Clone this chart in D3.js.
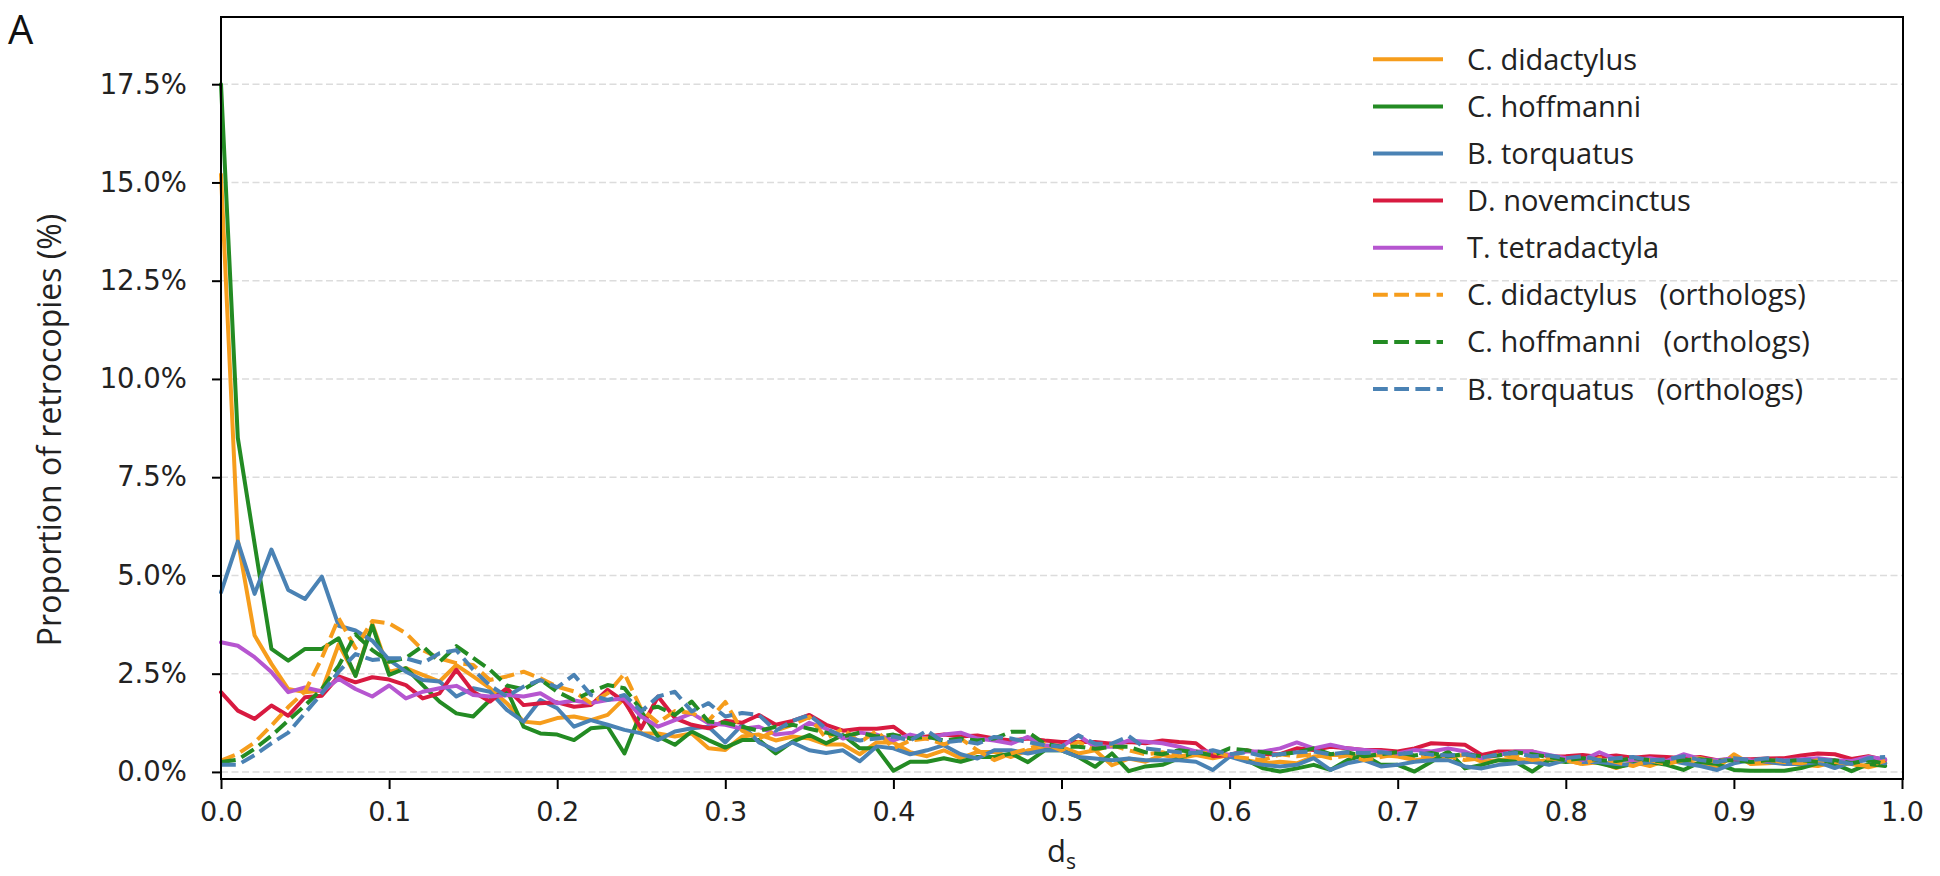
<!DOCTYPE html>
<html>
<head>
<meta charset="utf-8">
<script src="https://cdn.jsdelivr.net/npm/d3@7"></script>
<style>
  html, body { margin: 0; padding: 0; background: #fff; }
  svg { display: block; }
  text { white-space: pre; }
</style>
</head>
<body>
<svg id="chart" width="1940" height="876"></svg>
<script>
// ---------- DATA ----------
const seriesNames = [
  "C. didactylus", "C. hoffmanni", "B. torquatus", "D. novemcinctus", "T. tetradactyla",
  "C. didactylus   (orthologs)", "C. hoffmanni   (orthologs)", "B. torquatus   (orthologs)"
];
const seriesColors = ["#f69d1c", "#238b23", "#4a82b4", "#d81a40", "#b656d0", "#f69d1c", "#238b23", "#4a82b4"];
const seriesDashed = [false, false, false, false, false, true, true, true];

// ds bin positions (0.00 .. 0.99, step 0.01)
const dsBins = d3.range(100).map(i => +(i / 100).toFixed(2));

const cDidactylus = [
  15.2,5.9,3.47,2.75,2.11,2.03,2.07,3.25,2.45,3.77, 2.55,2.64,2.47,2.3,2.72,2.43,2.13,1.75,1.28,1.24,
  1.37,1.41,1.32,1.45,1.87,0.98,0.98,0.9,0.98,0.6, 0.56,0.9,0.95,0.8,0.9,0.85,0.7,0.7,0.45,0.75,
  0.75,0.5,0.4,0.55,0.35,0.51,0.51,0.38,0.55,0.59, 0.64,0.47,0.55,0.17,0.34,0.26,0.43,0.35,0.43,0.35,
  0.43,0.3,0.22,0.26,0.22,0.39,0.43,0.43,0.39,0.43, 0.39,0.3,0.35,0.39,0.43,0.26,0.3,0.35,0.26,0.3,
  0.3,0.2,0.25,0.1,0.25,0.15,0.3,0.25,0.2,0.1, 0.45,0.2,0.22,0.25,0.18,0.15,0.25,0.2,0.12,0.22
];
const cHoffmanni = [
  17.5,8.5,5.8,3.13,2.83,3.13,3.13,3.4,2.44,3.73, 2.47,2.64,2.21,1.79,1.49,1.41,1.83,2.09,1.15,0.98,
  0.95,0.81,1.11,1.15,0.47,1.54,0.9,0.69,1.03,0.81, 0.62,0.81,0.81,0.47,0.77,0.94,0.73,0.94,0.6,0.6,
  0.03,0.26,0.26,0.35,0.26,0.38,0.38,0.47,0.25,0.55, 0.55,0.38,0.13,0.47,0.02,0.14,0.18,0.35,0.52,0.43,
  0.43,0.3,0.09,0.01,0.09,0.18,0.05,0.3,0.43,0.18, 0.18,0.01,0.26,0.52,0.09,0.18,0.3,0.26,0.01,0.3,
  0.25,0.3,0.22,0.12,0.2,0.25,0.18,0.05,0.25,0.2, 0.05,0.03,0.03,0.03,0.1,0.22,0.2,0.02,0.2,0.15
];
const bTorquatus = [
  4.57,5.86,4.53,5.66,4.63,4.4,4.97,3.72,3.6,3.34, 2.85,2.55,2.34,2.3,1.92,2.13,2.04,1.58,1.28,1.83,
  1.62,1.15,1.32,1.2,1.07,0.98,0.81,1.03,1.11,1.15, 0.75,1.2,0.75,0.55,0.75,0.55,0.48,0.55,0.27,0.65,
  0.6,0.45,0.55,0.68,0.45,0.34,0.55,0.55,0.47,0.55, 0.55,0.38,0.34,0.3,0.34,0.3,0.3,0.3,0.26,0.05,
  0.39,0.26,0.18,0.14,0.18,0.35,0.05,0.22,0.3,0.14, 0.18,0.26,0.3,0.3,0.14,0.09,0.18,0.22,0.26,0.18,
  0.3,0.25,0.25,0.2,0.18,0.25,0.3,0.22,0.15,0.05, 0.22,0.3,0.25,0.2,0.2,0.25,0.1,0.25,0.3,0.22
];
const dNovemcinctus = [
  2.03,1.56,1.35,1.69,1.43,1.9,1.94,2.43,2.28,2.41, 2.35,2.21,1.87,2.0,2.6,2.04,1.79,2.13,1.7,1.75,
  1.77,1.66,1.7,2.09,1.79,1.11,1.92,1.37,1.2,1.11, 1.3,1.25,1.45,1.2,1.3,1.45,1.2,1.05,1.1,1.1,
  1.15,0.85,0.9,0.95,0.9,0.93,0.85,0.8,0.85,0.8, 0.76,0.76,0.76,0.72,0.76,0.73,0.8,0.76,0.73,0.4,
  0.43,0.55,0.45,0.45,0.6,0.56,0.64,0.6,0.56,0.56, 0.52,0.6,0.73,0.71,0.69,0.43,0.52,0.52,0.52,0.39,
  0.4,0.43,0.38,0.42,0.36,0.4,0.38,0.35,0.38,0.3, 0.32,0.32,0.34,0.35,0.42,0.47,0.45,0.33,0.4,0.3
];
const tTetradactyla = [
  3.3,3.21,2.92,2.54,2.03,2.15,2.05,2.37,2.11,1.92, 2.2,1.87,2.04,2.13,2.19,1.96,1.92,1.96,1.92,2.0,
  1.75,1.82,1.75,1.83,1.87,1.41,1.15,1.32,1.49,1.24, 1.2,1.1,1.15,0.95,1.0,1.25,1.1,0.85,1.0,0.95,
  0.8,0.95,0.85,0.95,1.0,0.85,0.8,0.72,0.89,0.68, 0.64,0.93,0.64,0.64,0.8,0.77,0.73,0.64,0.52,0.52,
  0.43,0.52,0.52,0.6,0.75,0.6,0.69,0.6,0.56,0.52, 0.47,0.56,0.52,0.6,0.52,0.35,0.43,0.52,0.52,0.43,
  0.35,0.3,0.5,0.32,0.3,0.35,0.28,0.45,0.33,0.3, 0.35,0.3,0.28,0.3,0.32,0.35,0.3,0.28,0.38,0.32
];
const cDidactylusOrth = [
  0.29,0.46,0.75,1.18,1.65,2.05,2.9,3.91,3.15,3.84, 3.78,3.53,3.1,2.89,2.77,2.72,2.34,2.43,2.55,2.38,
  2.17,2.05,1.75,2.0,2.5,1.6,1.25,1.55,1.5,1.3, 1.78,1.05,0.85,1.05,1.2,1.4,0.85,1.1,0.75,1.05,
  0.6,0.8,0.85,0.7,0.85,0.55,0.3,0.47,0.59,0.72, 0.55,0.76,0.55,0.68,0.55,0.45,0.5,0.4,0.45,0.5,
  0.4,0.35,0.3,0.45,0.4,0.45,0.35,0.42,0.3,0.38, 0.45,0.35,0.45,0.4,0.3,0.35,0.45,0.4,0.3,0.35,
  0.3,0.2,0.35,0.25,0.15,0.3,0.2,0.3,0.35,0.25, 0.4,0.2,0.3,0.25,0.22,0.3,0.25,0.2,0.15,0.28
];
const cHoffmanniOrth = [
  0.25,0.31,0.59,0.92,1.31,1.69,2.11,2.7,3.5,3.1, 2.8,2.9,3.2,2.8,3.2,2.9,2.6,2.2,2.1,2.35,
  2.04,1.83,2.04,2.21,2.13,1.58,1.66,1.45,1.79,1.28, 1.25,1.15,1.05,1.15,1.2,1.1,1.0,0.9,1.0,0.9,
  0.95,0.85,0.9,0.8,0.85,0.8,0.85,1.02,1.02,0.72, 0.64,0.64,0.59,0.64,0.64,0.5,0.45,0.55,0.5,0.42,
  0.6,0.55,0.5,0.45,0.5,0.6,0.45,0.5,0.4,0.45, 0.5,0.42,0.48,0.4,0.45,0.4,0.42,0.5,0.45,0.38,
  0.3,0.35,0.3,0.28,0.35,0.3,0.25,0.3,0.32,0.28, 0.3,0.25,0.3,0.28,0.3,0.25,0.3,0.22,0.3,0.2
];
const bTorquatusOrth = [
  0.18,0.18,0.43,0.73,1.0,1.5,2.0,2.55,3.0,2.85, 2.89,2.89,2.77,3.02,3.1,2.6,2.2,1.92,2.17,2.34,
  2.15,2.47,1.96,1.83,1.96,1.54,1.92,2.04,1.54,1.75, 1.41,1.5,1.45,1.05,1.3,1.45,1.1,0.9,0.8,0.85,
  0.9,0.8,1.05,0.75,0.8,0.72,0.89,0.85,0.76,0.68, 0.64,0.93,0.72,0.72,0.91,0.6,0.55,0.5,0.48,0.55,
  0.45,0.5,0.4,0.45,0.5,0.52,0.45,0.5,0.48,0.5, 0.45,0.5,0.44,0.42,0.45,0.36,0.45,0.48,0.4,0.42,
  0.35,0.4,0.3,0.35,0.38,0.3,0.32,0.4,0.3,0.25, 0.35,0.3,0.35,0.28,0.3,0.32,0.28,0.2,0.35,0.38
];
const seriesValues = [cDidactylus, cHoffmanni, bTorquatus, dNovemcinctus, tTetradactyla,
                      cDidactylusOrth, cHoffmanniOrth, bTorquatusOrth];

const yTickValues = [0, 2.5, 5, 7.5, 10, 12.5, 15, 17.5];
const yTickLabels = ["0.0%", "2.5%", "5.0%", "7.5%", "10.0%", "12.5%", "15.0%", "17.5%"];
const xTickValues = [0, 0.1, 0.2, 0.3, 0.4, 0.5, 0.6, 0.7, 0.8, 0.9, 1.0];
const xTickLabels = ["0.0", "0.1", "0.2", "0.3", "0.4", "0.5", "0.6", "0.7", "0.8", "0.9", "1.0"];

// ---------- LAYOUT ----------
const svg = d3.select("#chart");
const plot = { left: 221, right: 1902, top: 17, bottom: 779 };

const x = d3.scaleLinear().domain([0, 1]).range([plot.left, plot.right]);
const y = d3.scaleLinear().domain([-0.18, 19.21]).range([plot.bottom, plot.top]);

const tickFont = "'DejaVu Sans', sans-serif";
const textFont = "'Open Sans', sans-serif";

// gridlines
svg.append("g")
  .selectAll("line")
  .data(yTickValues)
  .join("line")
  .attr("x1", plot.left).attr("x2", plot.right + 1)
  .attr("y1", d => y(d)).attr("y2", d => y(d))
  .attr("stroke", "#dcdcdc")
  .attr("stroke-width", 1.5)
  .attr("stroke-dasharray", "7,3.5");

// lines
const line = d3.line()
  .x((d, i) => x(dsBins[i]))
  .y(d => y(d));

const linesG = svg.append("g");
seriesValues.forEach((vals, k) => {
  linesG.append("path")
    .datum(vals)
    .attr("d", line)
    .attr("fill", "none")
    .attr("stroke", seriesColors[k])
    .attr("stroke-width", 4)
    .attr("stroke-linejoin", "round")
    .attr("stroke-linecap", seriesDashed[k] ? "butt" : "round")
    .attr("stroke-dasharray", seriesDashed[k] ? "14.8,6.4" : null);
});

// frame
svg.append("rect")
  .attr("x", plot.left).attr("y", plot.top)
  .attr("width", plot.right + 1 - plot.left).attr("height", plot.bottom - plot.top)
  .attr("fill", "none").attr("stroke", "#000").attr("stroke-width", 2);

// y axis
const yAxis = d3.axisLeft(y)
  .tickValues(yTickValues)
  .tickFormat((d, i) => yTickLabels[i])
  .tickSize(9)
  .tickPadding(25);
const yG = svg.append("g").attr("transform", `translate(${plot.left},0)`).call(yAxis);
yG.select(".domain").remove();
yG.selectAll(".tick line").attr("stroke", "#000").attr("stroke-width", 2);
yG.selectAll(".tick text")
  .attr("font-family", tickFont).attr("font-size", 27.5).attr("fill", "#222");

// x axis
const xAxis = d3.axisBottom(x)
  .tickValues(xTickValues)
  .tickFormat((d, i) => xTickLabels[i])
  .tickSize(10)
  .tickPadding(13);
const xG = svg.append("g").attr("transform", `translate(0,${plot.bottom})`).call(xAxis);
xG.select(".domain").remove();
xG.selectAll(".tick line").attr("stroke", "#000").attr("stroke-width", 2);
xG.selectAll(".tick text")
  .attr("font-family", tickFont).attr("font-size", 27).attr("fill", "#222");

// axis titles
const xt = svg.append("text")
  .attr("x", (plot.left + plot.right) / 2).attr("y", 862)
  .attr("text-anchor", "middle")
  .attr("font-family", textFont).attr("font-size", 31).attr("fill", "#222");
xt.append("tspan").text("d");
xt.append("tspan").attr("font-size", 21).attr("dy", 7).text("s");

svg.append("text")
  .attr("transform", "translate(61,430) rotate(-90)")
  .attr("text-anchor", "middle")
  .attr("font-family", textFont).attr("font-size", 32).attr("fill", "#222")
  .text("Proportion of retrocopies (%)");

// panel letter
svg.append("text")
  .attr("x", 8).attr("y", 44)
  .attr("font-family", textFont).attr("font-size", 40).attr("fill", "#111")
  .text("A");

// legend
const legend = svg.append("g");
seriesNames.forEach((name, k) => {
  const cy = 59.3 + k * 47.1;
  legend.append("line")
    .attr("x1", 1373).attr("x2", 1443)
    .attr("y1", cy).attr("y2", cy)
    .attr("stroke", seriesColors[k]).attr("stroke-width", 4)
    .attr("stroke-dasharray", seriesDashed[k] ? "14.8,6.4" : null);
  legend.append("text")
    .attr("x", 1467).attr("y", cy + 10.5)
    .attr("font-family", textFont).attr("font-size", 29).attr("fill", "#222")
    .text(name);
});
</script>
</body>
</html>
